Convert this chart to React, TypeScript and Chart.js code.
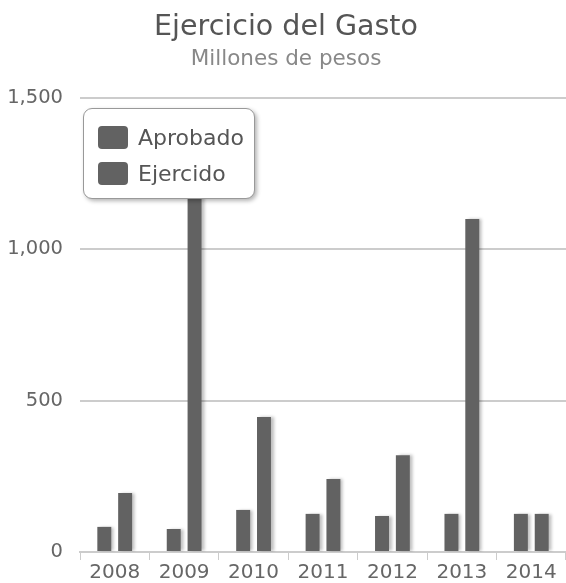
import React, { useEffect, useRef } from "react";
import { Chart, registerables } from "chart.js";

Chart.register(...registerables);

const categories = ["2008", "2009", "2010", "2011", "2012", "2013", "2014"];
const aprobado = [83, 76, 139, 126, 119, 126, 126];
const ejercido = [195, 1250, 446, 241, 320, 1100, 126];
const seriesNames = ["Aprobado", "Ejercido"];
const yTicks = [0, 500, 1000, 1500];

const FONT = "'DejaVu Sans', sans-serif";
const BAR = "#626262";

const shadowPlugin = {
  id: "barShadow",
  beforeDatasetsDraw(chart: any) {
    const ctx = chart.ctx;
    ctx.save();
    ctx.shadowColor = "rgba(0,0,0,0.25)";
    ctx.shadowOffsetX = 3;
    ctx.shadowOffsetY = 0;
    ctx.shadowBlur = 3;
  },
  afterDatasetsDraw(chart: any) {
    chart.ctx.restore();
  },
};

export default function App() {
  const ref = useRef<HTMLCanvasElement | null>(null);
  useEffect(() => {
    if (!ref.current) return;
    const chart = new Chart(ref.current, {
      type: "bar",
      data: {
        labels: categories,
        datasets: [
          { label: seriesNames[0], data: aprobado, backgroundColor: BAR },
          { label: seriesNames[1], data: ejercido, backgroundColor: BAR },
        ],
      },
      plugins: [shadowPlugin],
      options: {
        animation: false,
        responsive: false,
        maintainAspectRatio: false,
        layout: { padding: { left: 6, right: 0, top: 0, bottom: 0 } },
        datasets: { bar: { categoryPercentage: 0.6, barPercentage: 0.67 } },
        plugins: {
          legend: { display: false },
          tooltip: { enabled: false },
          title: {
            display: true,
            text: "Ejercicio del Gasto",
            color: "#555",
            font: { family: FONT, size: 28.5, weight: "normal", lineHeight: 1.2 },
            padding: { top: 10, bottom: 0 },
          },
          subtitle: {
            display: true,
            text: "Millones de pesos",
            color: "#888",
            font: { family: FONT, size: 21.5, weight: "normal", lineHeight: 1.2 },
            padding: { top: 2, bottom: 26 },
          },
        },
        scales: {
          x: {
            afterFit: (axis: any) => {
              axis.height = 31;
            },
            grid: {
              display: true,
              drawOnChartArea: false,
              drawTicks: true,
              tickLength: 8,
              color: "#ccc",
              offset: true,
            },
            border: { display: true, color: "#ccc", width: 2 },
            ticks: {
              color: "#666",
              font: { family: FONT, size: 20, lineHeight: 1 },
              padding: 3,
              maxRotation: 0,
              autoSkip: false,
            },
          },
          y: {
            min: 0,
            max: 1500,
            afterFit: (axis: any) => {
              axis.width = 74;
            },
            afterBuildTicks: (axis: any) => {
              axis.ticks = yTicks.map((v) => ({ value: v }));
            },
            grid: { color: "#ccc", lineWidth: 2, drawTicks: false },
            border: { display: false },
            ticks: {
              color: "#666",
              font: { family: FONT, size: 19.5 },
              padding: 17,
              callback: (v: any) => Number(v).toLocaleString("en-US"),
            },
          },
        },
      },
    });
    return () => chart.destroy();
  }, []);

  return (
    <div style={{ position: "fixed", left: 0, top: 0, width: 566, height: 583, background: "#fff" }}>
      <canvas ref={ref} width={566} height={583} style={{ display: "block" }} />
      <div
        style={{
          position: "absolute",
          left: 83,
          top: 108,
          width: 172,
          height: 91,
          background: "#fff",
          border: "1px solid #999",
          borderRadius: 9,
          boxShadow: "2px 2px 4px rgba(0,0,0,0.3)",
          boxSizing: "border-box",
          fontFamily: FONT,
          fontSize: 22,
          color: "#555",
          padding: "10px 0 0 14px",
        }}
      >
        {seriesNames.map((n) => (
          <div key={n} style={{ display: "flex", alignItems: "center", height: 36 }}>
            <span
              style={{
                display: "inline-block",
                width: 30,
                height: 23,
                background: BAR,
                borderRadius: 4,
                marginRight: 10,
              }}
            />
            {n}
          </div>
        ))}
      </div>
    </div>
  );
}
